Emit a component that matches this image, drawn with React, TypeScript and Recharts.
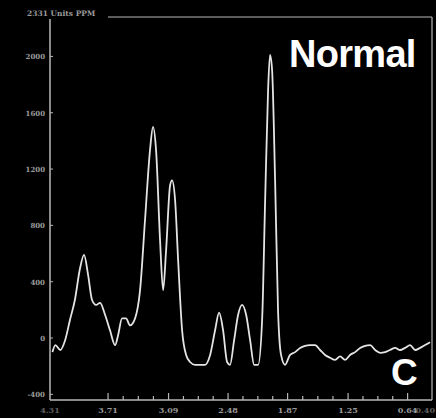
import React from "react";
import { LineChart, Line, XAxis, YAxis } from "recharts";

// chemical shift (ppm) and signal intensity
const ppm = [
  4.28, 4.25, 4.2, 4.15, 4.1, 4.05, 4.0, 3.956, 3.915, 3.874, 3.833, 3.792, 3.741, 3.69,
  3.638, 3.607, 3.567, 3.526, 3.485, 3.433, 3.382, 3.331, 3.28, 3.249, 3.218, 3.177,
  3.146, 3.115, 3.074, 3.054, 3.023, 2.992, 2.951, 2.91, 2.87, 2.818, 2.767, 2.716,
  2.664, 2.613, 2.572, 2.531, 2.49, 2.46, 2.418, 2.377, 2.336, 2.295, 2.254, 2.213,
  2.172, 2.131, 2.1, 2.07, 2.05, 2.029, 1.998, 1.968, 1.937, 1.896, 1.845, 1.793,
  1.742, 1.691, 1.64, 1.588, 1.537, 1.486, 1.435, 1.383, 1.332, 1.281, 1.23, 1.178,
  1.127, 1.076, 1.024, 0.973, 0.922, 0.871, 0.82, 0.768, 0.717, 0.666, 0.615, 0.563,
  0.512, 0.461, 0.41,
];
const intensity = [
  -100, -50, -85, -15, 130, 270, 485, 590, 450, 270, 235, 250, 165, 55,
  -50, 20, 140, 140, 90, 140, 340, 840, 1335, 1500, 1335, 695,
  340, 625, 1085, 1120, 980, 555, 55, -120, -170, -190, -190, -190,
  -120, 55, 180, 55, -170, -190, -15, 165, 235, 165, -15, -190,
  -190, 130, 980, 1760, 2010, 1905, 1120, 200, -120, -190, -120, -100,
  -70, -55, -50, -50, -85, -120, -140, -155, -130, -155, -120, -100,
  -70, -55, -50, -85, -105, -100, -85, -70, -85, -70, -50, -85,
  -70, -50, -30,
];

const yTicks = [-400, 0, 400, 800, 1200, 1600, 2000];
const yTickLabels = ["-400", "0", "400", "800", "1200", "1600", "2000"];
const xMajorTicks = [4.305, 3.71, 3.09, 2.48, 1.87, 1.25, 0.64, 0.39];
const xMajorLabels = ["4.31", "3.71", "3.09", "2.48", "1.87", "1.25", "0.64", "0.40"];
const titleText = "2331 Units PPM";
const groupLabel = "Normal";
const panelLabel = "C";

const data = ppm.map((p, i) => ({ ppm: p, v: intensity[i] }));

// minor ticks at quarters between the labelled majors
const innerMajors = xMajorTicks.slice(1, -1);
const minorTicks: number[] = [];
for (let i = 0; i < innerMajors.length - 1; i++) {
  const a = innerMajors[i];
  const b = innerMajors[i + 1];
  for (let k = 1; k < 4; k++) minorTicks.push(a + ((b - a) * k) / 4);
}
const allXTicks = [...xMajorTicks, ...minorTicks];

const AXIS = "#b8b8b8";
const LABEL = "#9a9a9a";

const BottomTick = (props: any) => {
  const { x, y, payload } = props;
  const idx = xMajorTicks.indexOf(payload.value);
  const isMajor = idx >= 0;
  const first = idx === 0;
  const last = idx === xMajorTicks.length - 1;
  const edge = first || last;
  return (
    <g>
      {!edge && (
        <line x1={x} y1={y} x2={x} y2={y - (isMajor ? 7 : 4)} stroke={AXIS} strokeWidth={1.2} />
      )}
      {isMajor && (
        <text
          x={last ? x + 3 : x}
          y={y + 13}
          textAnchor={last ? "end" : "middle"}
          fontSize={8}
          fontFamily="DejaVu Serif"
          fontWeight="bold"
          fill={LABEL}
          opacity={edge ? 0.6 : 1}
        >
          {xMajorLabels[idx]}
        </text>
      )}
    </g>
  );
};

const LeftTick = (props: any) => {
  const { x, y, payload } = props;
  const idx = yTicks.indexOf(payload.value);
  return (
    <g>
      <line x1={x} y1={y} x2={x + 3} y2={y} stroke={AXIS} strokeWidth={1} />
      <text
        x={x - 5}
        y={y + 3}
        textAnchor="end"
        fontSize={7}
        fontFamily="DejaVu Serif"
        fontWeight="bold"
        fill={LABEL}
      >
        {yTickLabels[idx]}
      </text>
    </g>
  );
};

export default function App() {
  return (
    <div
      style={{
        position: "fixed",
        left: 0,
        top: 0,
        width: 436,
        height: 418,
        background: "#000",
        overflow: "hidden",
      }}
    >
      <LineChart
        width={436}
        height={418}
        data={data}
        margin={{ top: 0, right: 0, bottom: 0, left: 0 }}
      >
        <XAxis
          xAxisId="b"
          type="number"
          dataKey="ppm"
          domain={[0.39, 4.305]}
          reversed
          allowDataOverflow
          ticks={allXTicks}
          interval={0}
          tick={<BottomTick />}
          tickLine={false}
          tickSize={0}
          tickMargin={0}
          height={18}
          axisLine={{ stroke: AXIS, strokeWidth: 1.5 }}
        />
        <XAxis
          xAxisId="t"
          orientation="top"
          type="number"
          dataKey="ppm"
          domain={[0.39, 4.305]}
          reversed
          allowDataOverflow
          tick={false}
          tickLine={false}
          height={17}
          axisLine={{ stroke: AXIS, strokeWidth: 1.2 }}
        />
        <YAxis
          yAxisId="l"
          type="number"
          domain={[-440, 2280]}
          allowDataOverflow
          ticks={yTicks}
          interval={0}
          tick={<LeftTick />}
          tickLine={false}
          tickSize={0}
          tickMargin={0}
          width={50}
          axisLine={{ stroke: AXIS, strokeWidth: 1.5 }}
        />
        <YAxis
          yAxisId="r"
          orientation="right"
          type="number"
          domain={[-440, 2280]}
          tick={false}
          tickLine={false}
          width={4}
          axisLine={{ stroke: AXIS, strokeWidth: 1.2 }}
        />
        <Line
          xAxisId="b"
          yAxisId="l"
          type="monotone"
          dataKey="v"
          stroke="#e4e4e4"
          strokeWidth={1.8}
          dot={false}
          isAnimationActive={false}
        />
      </LineChart>
      <svg
        width={436}
        height={418}
        style={{ position: "absolute", left: 0, top: 0, pointerEvents: "none" }}
      >
        <rect x={24} y={6} width={84} height={13} fill="#000" />
        <text x={27} y={16} fontSize={7.5} fontFamily="DejaVu Serif" fontWeight="bold" fill={LABEL}>
          {titleText}
        </text>
        <text
          x={289}
          y={67}
          fontSize={38}
          fontFamily="Liberation Sans"
          fontWeight="bold"
          fill="#ffffff"
          letterSpacing={-0.7}
        >
          {groupLabel}
        </text>
        <text
          x={391}
          y={385}
          fontSize={37}
          fontFamily="Liberation Sans"
          fontWeight="bold"
          fill="#ffffff"
        >
          {panelLabel}
        </text>
      </svg>
    </div>
  );
}
